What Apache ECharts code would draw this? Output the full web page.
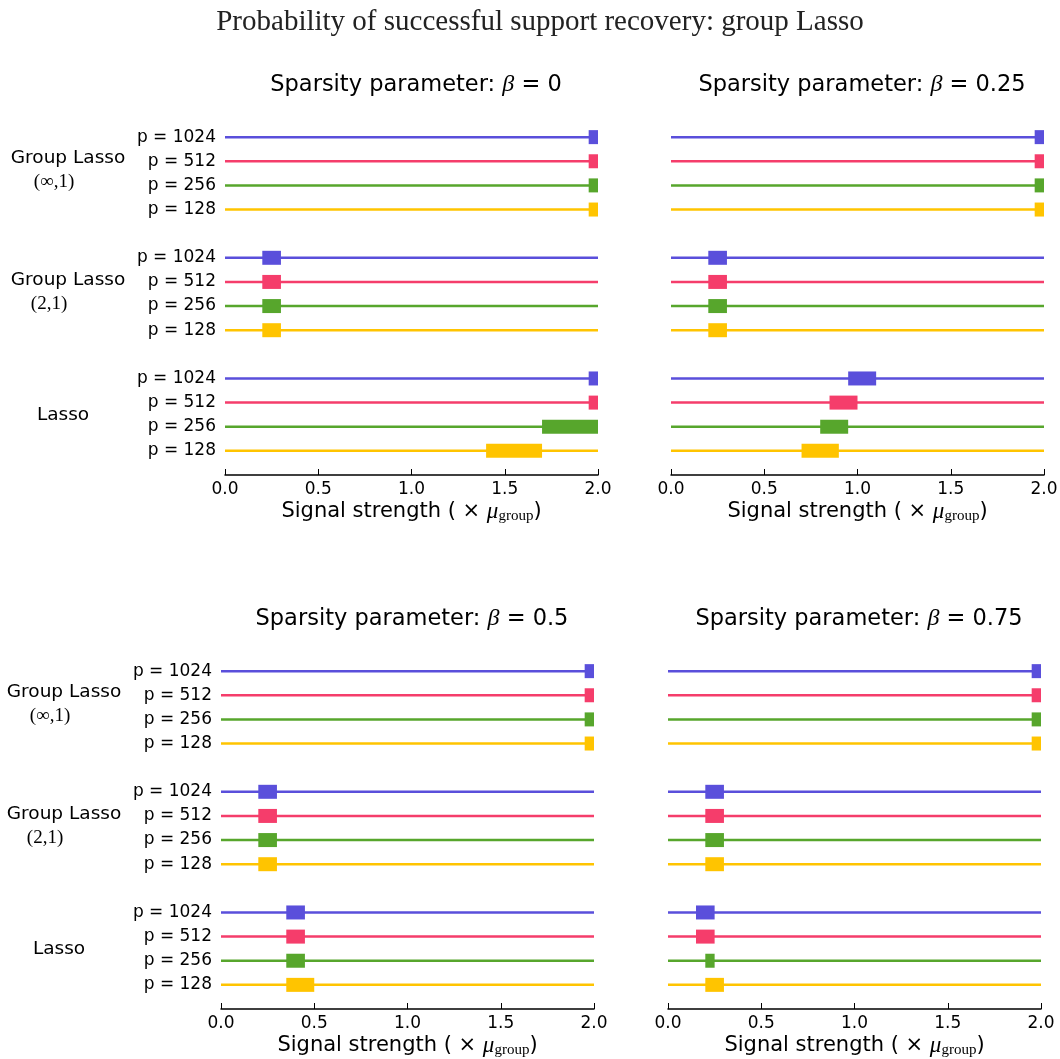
<!DOCTYPE html>
<html>
<head>
<meta charset="utf-8">
<script src="https://cdn.jsdelivr.net/npm/echarts@6/dist/echarts.min.js"></script>
<style>
  html, body { margin: 0; padding: 0; background: #fff; }
  #chart { width: 1060px; height: 1059px; }
</style>
</head>
<body>
<div id="chart"></div>
<script>
// rows inside each method group, top to bottom
var rowLabels = ['p = 1024', 'p = 512', 'p = 256', 'p = 128'];
var rowColors = ['#5a4fdb', '#f53d6b', '#57a62c', '#ffc400'];
var betas = ['0', '0.25', '0.5', '0.75'];
var xTicks = [0, 0.5, 1, 1.5, 2];

// transition interval of each row: [GL(inf,1) x4, GL(2,1) x4, Lasso x4]
var beta0Start = [1.95, 1.95, 1.95, 1.95, 0.2, 0.2, 0.2, 0.2, 1.95, 1.95, 1.7, 1.4];
var beta0End   = [2, 2, 2, 2, 0.3, 0.3, 0.3, 0.3, 2, 2, 2, 1.7];
var beta25Start = [1.95, 1.95, 1.95, 1.95, 0.2, 0.2, 0.2, 0.2, 0.95, 0.85, 0.8, 0.7];
var beta25End   = [2, 2, 2, 2, 0.3, 0.3, 0.3, 0.3, 1.1, 1.0, 0.95, 0.9];
var beta50Start = [1.95, 1.95, 1.95, 1.95, 0.2, 0.2, 0.2, 0.2, 0.35, 0.35, 0.35, 0.35];
var beta50End   = [2, 2, 2, 2, 0.3, 0.3, 0.3, 0.3, 0.45, 0.45, 0.45, 0.5];
var beta75Start = [1.95, 1.95, 1.95, 1.95, 0.2, 0.2, 0.2, 0.2, 0.15, 0.15, 0.2, 0.2];
var beta75End   = [2, 2, 2, 2, 0.3, 0.3, 0.3, 0.3, 0.25, 0.25, 0.25, 0.3];

var starts = [beta0Start, beta25Start, beta50Start, beta75Start];
var ends = [beta0End, beta25End, beta50End, beta75End];

var font = 'DejaVu Sans';
var serif = 'Liberation Serif';

// panel boxes in pixels
var grids = [
  { left: 225, right: 462, top: 113, height: 362, outerBoundsMode: 'none' },
  { left: 671, right: 16, top: 113, height: 362, outerBoundsMode: 'none' },
  { left: 221, right: 466, top: 647, height: 362, outerBoundsMode: 'none' },
  { left: 668, right: 19, top: 647, height: 362, outerBoundsMode: 'none' }
];

// row index on the y axis: one blank slot between groups
function rowPos(k) {
  return Math.floor(k / 4) * 5 + (k % 4);
}

function yLabel(v) {
  if (v < 0 || v > 13 || v % 5 === 4) return '';
  return rowLabels[v % 5];
}

var chart = echarts.init(document.getElementById('chart'));

var xAxes = [], yAxes = [], series = [], titles = [];

titles.push({
  text: 'Probability of successful support recovery: group Lasso',
  left: 535, top: 3, textAlign: 'center',
  textStyle: { fontFamily: serif, fontSize: 29, fontWeight: 'normal', color: '#222' }
});

grids.forEach(function (g, p) {
  xAxes.push({
    gridIndex: p, type: 'value', min: 0, max: 2, interval: 0.5, position: 'bottom',
    name: '{a|Signal strength ( × }{m|μ}{s|group}{a|)}',
    nameLocation: 'middle', nameGap: 24, nameMoveOverlap: false,
    nameTextStyle: {
      rich: {
        a: { fontFamily: font, fontSize: 21, color: '#000' },
        m: { fontFamily: serif, fontStyle: 'italic', fontSize: 23, color: '#000' },
        s: { fontFamily: serif, fontSize: 15, color: '#000', padding: [10, 0, 0, 0] }
      }
    },
    axisLine: { onZero: false, lineStyle: { color: '#000', width: 1.5 } },
    axisTick: { inside: true, length: 6, lineStyle: { color: '#000', width: 1 } },
    axisLabel: { color: '#000', fontFamily: font, fontSize: 17, margin: 6,
      formatter: function (v) { return v.toFixed(1); } },
    splitLine: { show: false }
  });
  yAxes.push({
    gridIndex: p, type: 'value', inverse: true, min: -1, max: 14, interval: 1,
    axisLine: { show: false }, axisTick: { show: false }, splitLine: { show: false },
    axisLabel: { show: p % 2 === 0, color: '#000', fontFamily: font, fontSize: 17, margin: 9, formatter: yLabel }
  });

  var data = [];
  for (var k = 0; k < 12; k++) {
    data.push([rowPos(k), starts[p][k], ends[p][k], k % 4]);
  }
  series.push({
    type: 'custom', xAxisIndex: p, yAxisIndex: p, clip: false,
    data: data,
    renderItem: function (params, api) {
      var row = api.value(0);
      var c = rowColors[api.value(3)];
      var l = api.coord([xTicks[0], row]);
      var r = api.coord([xTicks[xTicks.length - 1], row]);
      var a = api.coord([api.value(1), row]);
      var b = api.coord([api.value(2), row]);
      return {
        type: 'group',
        children: [
          { type: 'line', shape: { x1: l[0], y1: l[1], x2: r[0], y2: r[1] },
            style: { stroke: c, lineWidth: 2.5 } },
          { type: 'rect', shape: { x: a[0], y: a[1] - 7, width: b[0] - a[0], height: 14 },
            style: { fill: c } }
        ]
      };
    }
  });

  titles.push({
    text: '{a|Sparsity parameter: }{b|β}{a| = ' + betas[p] + '}',
    left: g.left + 186, top: g.top - 45, textAlign: 'center',
    textStyle: {
      rich: {
        a: { fontFamily: font, fontSize: 22.5, fontWeight: 'normal', color: '#000' },
        b: { fontFamily: serif, fontStyle: 'italic', fontWeight: 'normal', fontSize: 24, color: '#000' }
      }
    }
  });
});

// method labels on the left of each row group
var graphics = [];
[0, 534].forEach(function (dy, i) {
  var dx = i === 0 ? 0 : -4;
  graphics.push({ type: 'text', x: 68 + dx, y: 158 + dy, style: { text: 'Group Lasso', font: '18.5px ' + font, fill: '#000', align: 'center', verticalAlign: 'middle' } });
  graphics.push({ type: 'text', x: 54 + dx, y: 182 + dy, style: { text: '(∞,1)', font: '19px ' + serif, fill: '#000', align: 'center', verticalAlign: 'middle' } });
  graphics.push({ type: 'text', x: 68 + dx, y: 280 + dy, style: { text: 'Group Lasso', font: '18.5px ' + font, fill: '#000', align: 'center', verticalAlign: 'middle' } });
  graphics.push({ type: 'text', x: 49 + dx, y: 304 + dy, style: { text: '(2,1)', font: '19px ' + serif, fill: '#000', align: 'center', verticalAlign: 'middle' } });
  graphics.push({ type: 'text', x: 63 + dx, y: 415 + dy, style: { text: 'Lasso', font: '18.5px ' + font, fill: '#000', align: 'center', verticalAlign: 'middle' } });
});

chart.setOption({
  animation: false,
  backgroundColor: '#fff',
  title: titles,
  grid: grids,
  xAxis: xAxes,
  yAxis: yAxes,
  series: series,
  graphic: graphics
});
</script>
</body>
</html>
